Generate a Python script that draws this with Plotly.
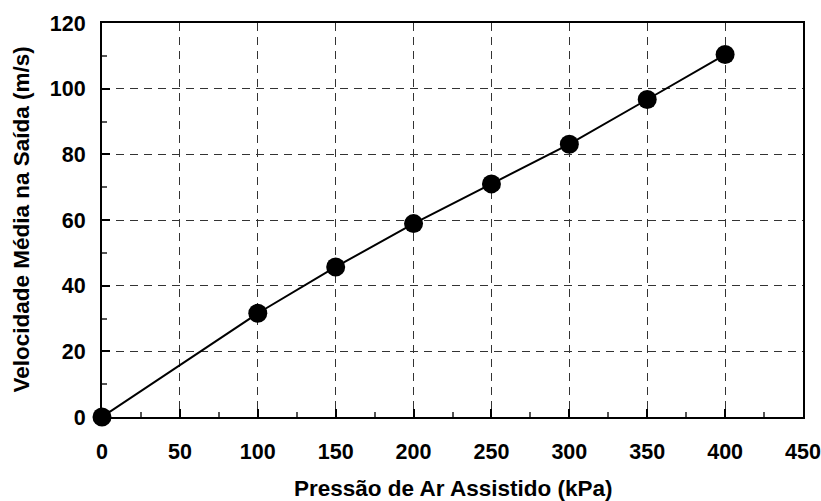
import plotly.graph_objects as go

pressao = [0, 100, 150, 200, 250, 300, 350, 400]
velocidade = [0, 31.6, 45.7, 58.9, 71.0, 83.1, 96.7, 110.4]

x_title = "Pressão de Ar Assistido (kPa)"
y_title = "Velocidade Média na Saída (m/s)"

fig = go.Figure()
fig.add_trace(go.Scatter(
    x=pressao, y=velocidade, mode="lines+markers",
    line=dict(color="black", width=2),
    marker=dict(color="black", size=19),
    cliponaxis=False, showlegend=False,
))

fam = "Liberation Sans, Arial, sans-serif"
tickfont = dict(family=fam, size=21.5, color="black", weight="bold")
axis_common = dict(
    showline=True, linecolor="black", linewidth=2, mirror=True,
    showgrid=True, gridcolor="#333333", gridwidth=1, griddash="8px,6px",
    ticks="inside", ticklen=8, tickwidth=2, tickcolor="black",
    zeroline=False, tickfont=tickfont, automargin=False,
)
fig.update_layout(
    width=821, height=501,
    margin=dict(l=102, r=18, t=23, b=84),
    paper_bgcolor="white", plot_bgcolor="white",
    font=dict(family=fam, size=16, color="black"),
    xaxis=dict(range=[0, 450], dtick=50, tick0=0, ticklabelstandoff=14,
               minor=dict(dtick=25, ticks="inside", ticklen=5, tickcolor="#555555", showgrid=False),
               **axis_common),
    yaxis=dict(range=[0, 120], dtick=20, tick0=0, ticklabelstandoff=10,
               minor=dict(dtick=10, ticks="inside", ticklen=5, tickcolor="#555555", showgrid=False),
               **axis_common),
    annotations=[
        dict(text=x_title, xref="paper", yref="paper", x=0.5, y=-0.181,
             xanchor="center", yanchor="middle", showarrow=False,
             font=dict(family=fam, size=22.5, color="black", weight="bold")),
        dict(text=y_title, xref="paper", yref="paper", x=-0.1151, y=0.502,
             xanchor="center", yanchor="middle", showarrow=False, textangle=-90,
             font=dict(family=fam, size=22.5, color="black", weight="bold")),
    ],
)
fig.write_html("out.html", config={"displayModeBar": False},
               post_script="document.body.style.margin='0';document.body.style.overflow='hidden';")
